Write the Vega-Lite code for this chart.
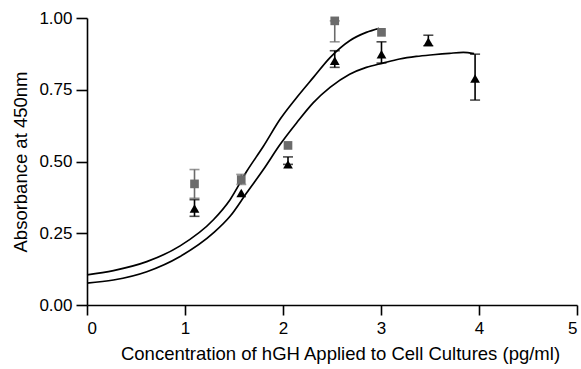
{
  "$schema": "https://vega.github.io/schema/vega-lite/v6.json",
  "width": 490,
  "height": 287,
  "autosize": "none",
  "padding": {"left": 87, "top": 18, "right": 4, "bottom": 64},
  "background": "white",
  "config": {
    "view": {"stroke": null},
    "font": "Liberation Sans",
    "axis": {
      "grid": false,
      "domainColor": "black",
      "domainWidth": 1.6,
      "tickColor": "black",
      "tickWidth": 1.6,
      "labelColor": "black",
      "titleColor": "black",
      "labelFont": "Liberation Sans",
      "titleFont": "Liberation Sans",
      "labelFontSize": 17,
      "titleFontSize": 18.5,
      "titleFontWeight": "normal"
    }
  },
  "datasets": {
    "curves": [
      {"series": "A", "x": 0.0, "y": 0.105},
      {"series": "A", "x": 0.27, "y": 0.12},
      {"series": "A", "x": 0.61, "y": 0.151},
      {"series": "A", "x": 0.95, "y": 0.206},
      {"series": "A", "x": 1.29, "y": 0.297},
      {"series": "A", "x": 1.46, "y": 0.367},
      {"series": "A", "x": 1.63, "y": 0.466},
      {"series": "A", "x": 1.8, "y": 0.553},
      {"series": "A", "x": 1.97, "y": 0.647},
      {"series": "A", "x": 2.14, "y": 0.723},
      {"series": "A", "x": 2.31, "y": 0.793},
      {"series": "A", "x": 2.48, "y": 0.862},
      {"series": "A", "x": 2.68, "y": 0.921},
      {"series": "A", "x": 2.85, "y": 0.95},
      {"series": "A", "x": 2.98, "y": 0.964},
      {"series": "B", "x": 0.0, "y": 0.076},
      {"series": "B", "x": 0.27, "y": 0.087},
      {"series": "B", "x": 0.61, "y": 0.116},
      {"series": "B", "x": 0.95, "y": 0.169},
      {"series": "B", "x": 1.29, "y": 0.251},
      {"series": "B", "x": 1.46, "y": 0.309},
      {"series": "B", "x": 1.63, "y": 0.391},
      {"series": "B", "x": 1.8, "y": 0.472},
      {"series": "B", "x": 1.97, "y": 0.559},
      {"series": "B", "x": 2.14, "y": 0.635},
      {"series": "B", "x": 2.31, "y": 0.705},
      {"series": "B", "x": 2.48, "y": 0.758},
      {"series": "B", "x": 2.68, "y": 0.804},
      {"series": "B", "x": 2.85, "y": 0.828},
      {"series": "B", "x": 3.02, "y": 0.843},
      {"series": "B", "x": 3.19, "y": 0.857},
      {"series": "B", "x": 3.36, "y": 0.866},
      {"series": "B", "x": 3.53, "y": 0.872},
      {"series": "B", "x": 3.7, "y": 0.877},
      {"series": "B", "x": 3.84, "y": 0.88},
      {"series": "B", "x": 3.95, "y": 0.876}
    ],
    "points": [
      {"series": "A", "x": 1.097, "y": 0.422, "lo": 0.372, "hi": 0.472},
      {"series": "A", "x": 1.574, "y": 0.437, "lo": 0.42, "hi": 0.455},
      {"series": "A", "x": 2.051, "y": 0.556, "lo": null, "hi": null},
      {"series": "A", "x": 2.528, "y": 0.99, "lo": 0.917, "hi": 0.99},
      {"series": "A", "x": 3.005, "y": 0.95, "lo": null, "hi": null},
      {"series": "B", "x": 1.097, "y": 0.336, "lo": 0.309, "hi": 0.367},
      {"series": "B", "x": 1.574, "y": 0.39, "lo": null, "hi": null},
      {"series": "B", "x": 2.051, "y": 0.49, "lo": 0.49, "hi": 0.516},
      {"series": "B", "x": 2.528, "y": 0.851, "lo": 0.828, "hi": 0.886},
      {"series": "B", "x": 3.005, "y": 0.874, "lo": 0.843, "hi": 0.917},
      {"series": "B", "x": 3.483, "y": 0.917, "lo": 0.903, "hi": 0.94},
      {"series": "B", "x": 3.96, "y": 0.789, "lo": 0.714, "hi": 0.874}
    ]
  },
  "encoding": {
    "x": {
      "field": "x",
      "type": "quantitative",
      "scale": {"domain": [0, 5], "nice": false, "zero": false},
      "axis": {
        "title": "Concentration of hGH Applied to Cell Cultures (pg/ml)",
        "values": [0, 1, 2, 3, 4, 5],
        "format": "d",
        "tickSize": 10,
        "labelPadding": 5,
        "titlePadding": 8,
        "titleX": 253
      }
    },
    "y": {
      "field": "y",
      "type": "quantitative",
      "scale": {"domain": [0, 1], "nice": false},
      "axis": {
        "title": "Absorbance at 450nm",
        "values": [0, 0.25, 0.5, 0.75, 1],
        "format": ".2f",
        "tickSize": 11,
        "labelPadding": 4,
        "titlePadding": 8
      }
    }
  },
  "layer": [
    {
      "data": {"name": "curves"},
      "mark": {"type": "line", "color": "black", "strokeWidth": 1.7, "interpolate": "monotone"},
      "encoding": {"detail": {"field": "series"}}
    },
    {
      "data": {"name": "points"},
      "transform": [{"filter": "datum.lo != null"}],
      "mark": {"type": "rule", "strokeWidth": 1.6},
      "encoding": {
        "y": {"field": "lo", "type": "quantitative"},
        "y2": {"field": "hi"},
        "color": {"field": "series", "type": "nominal", "scale": {"domain": ["A", "B"], "range": ["#6b6b6b", "#000000"]}, "legend": null}
      }
    },
    {
      "data": {"name": "points"},
      "transform": [{"filter": "datum.lo != null"}],
      "mark": {"type": "tick", "orient": "horizontal", "size": 10, "thickness": 1.6},
      "encoding": {
        "y": {"field": "lo", "type": "quantitative"},
        "color": {"field": "series", "type": "nominal", "scale": {"domain": ["A", "B"], "range": ["#6b6b6b", "#000000"]}, "legend": null}
      }
    },
    {
      "data": {"name": "points"},
      "transform": [{"filter": "datum.lo != null"}],
      "mark": {"type": "tick", "orient": "horizontal", "size": 10, "thickness": 1.6},
      "encoding": {
        "y": {"field": "hi", "type": "quantitative"},
        "color": {"field": "series", "type": "nominal", "scale": {"domain": ["A", "B"], "range": ["#6b6b6b", "#000000"]}, "legend": null}
      }
    },
    {
      "data": {"name": "points"},
      "mark": {"type": "point", "filled": true, "opacity": 1},
      "encoding": {
        "shape": {"field": "series", "type": "nominal", "scale": {"domain": ["A", "B"], "range": ["square", "triangle-up"]}, "legend": null},
        "size": {"field": "series", "type": "nominal", "scale": {"domain": ["A", "B"], "range": [75, 95]}, "legend": null},
        "color": {"field": "series", "type": "nominal", "scale": {"domain": ["A", "B"], "range": ["#5e5e5e", "#000000"]}, "legend": null}
      }
    }
  ]
}
